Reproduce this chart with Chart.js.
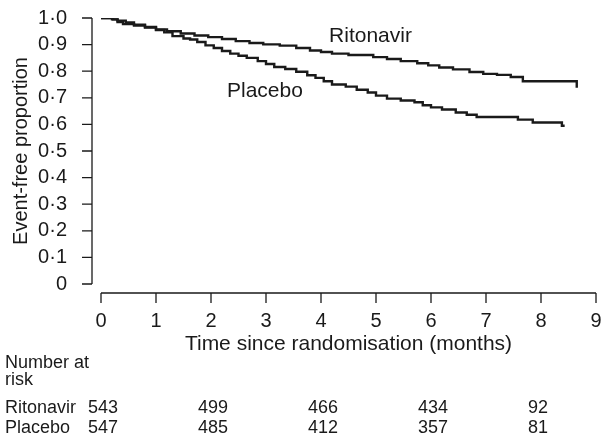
<!DOCTYPE html>
<html>
<head>
<meta charset="utf-8">
<title>Event-free proportion</title>
<script src="https://cdn.jsdelivr.net/npm/chart.js@4.4.1/dist/chart.umd.min.js"></script>
<style>
  html, body { margin: 0; padding: 0; background: #fff; }
  canvas { display: block; }
</style>
</head>
<body>
<canvas id="km" width="602" height="437"></canvas>
<script>
// Kaplan-Meier steps (months, event-free proportion)
const ritonavirTime = [0, 0.22, 0.3, 0.45, 0.6, 0.8, 1.0, 1.2, 1.45, 1.7, 1.95, 2.2, 2.45, 2.7, 2.95, 3.25, 3.55, 3.8, 4.0, 4.2, 4.5, 4.95, 5.2, 5.45, 5.75, 5.95, 6.15, 6.4, 6.7, 6.95, 7.2, 7.45, 7.67, 8.65, 8.65];
const ritonavirSurv = [1, 0.995, 0.99, 0.983, 0.975, 0.966, 0.957, 0.95, 0.942, 0.934, 0.928, 0.921, 0.913, 0.906, 0.901, 0.896, 0.887, 0.878, 0.872, 0.866, 0.861, 0.853, 0.846, 0.838, 0.83, 0.822, 0.814, 0.807, 0.797, 0.79, 0.786, 0.778, 0.762, 0.762, 0.738];

const placeboTime = [0, 0.2, 0.3, 0.4, 0.6, 0.8, 1.0, 1.15, 1.3, 1.5, 1.62, 1.75, 1.9, 2.05, 2.2, 2.35, 2.5, 2.65, 2.85, 3.0, 3.15, 3.35, 3.55, 3.75, 3.9, 4.05, 4.2, 4.45, 4.65, 4.85, 5.0, 5.2, 5.45, 5.7, 5.85, 6.0, 6.2, 6.45, 6.65, 6.83, 7.58, 7.85, 8.38, 8.43];
const placeboSurv = [1, 0.995, 0.985, 0.977, 0.972, 0.964, 0.955, 0.946, 0.932, 0.923, 0.919, 0.91, 0.897, 0.887, 0.876, 0.866, 0.858, 0.85, 0.838, 0.827, 0.816, 0.808, 0.798, 0.785, 0.775, 0.762, 0.75, 0.742, 0.73, 0.72, 0.708, 0.697, 0.69, 0.683, 0.672, 0.664, 0.656, 0.645, 0.636, 0.628, 0.618, 0.607, 0.595, 0.595];

// Number at risk table
const riskMonths = [0, 2, 4, 6, 8];
const riskRitonavir = [543, 499, 466, 434, 92];
const riskPlacebo = [547, 485, 412, 357, 81];

const FONT = "'Liberation Sans', Arial, sans-serif";
const INK = '#1a1a1a';

const toPoints = (t, s) => t.map((v, i) => ({ x: v, y: s[i] }));
const fmtTick = v => (Math.abs(v) < 1e-9 ? '0' : v.toFixed(1).replace('.', '\u00b7'));

// detached axes, curve labels and the risk table
const extras = {
  id: 'extras',
  afterDraw(chart) {
    const { ctx, chartArea, scales: { x, y } } = chart;
    ctx.save();
    ctx.strokeStyle = INK;
    ctx.lineWidth = 1.3;
    ctx.beginPath();
    const ax = chartArea.left - 9;
    ctx.moveTo(ax, y.getPixelForValue(1));
    ctx.lineTo(ax, y.getPixelForValue(0));
    y.ticks.forEach(t => {
      const py = y.getPixelForValue(t.value);
      ctx.moveTo(ax - 10, py);
      ctx.lineTo(ax, py);
    });
    const ay = chartArea.bottom + 9;
    ctx.moveTo(x.getPixelForValue(0), ay);
    ctx.lineTo(x.getPixelForValue(9), ay);
    x.ticks.forEach(t => {
      const px = x.getPixelForValue(t.value);
      ctx.moveTo(px, ay);
      ctx.lineTo(px, ay + 10);
    });
    ctx.stroke();

    ctx.fillStyle = INK;
    ctx.textBaseline = 'middle';
    ctx.textAlign = 'center';
    ctx.font = '21px ' + FONT;
    ctx.fillText('Ritonavir', x.getPixelForValue(4.9), y.getPixelForValue(0.932));
    ctx.fillText('Placebo', x.getPixelForValue(2.98), y.getPixelForValue(0.725));

    ctx.font = '18px ' + FONT;
    ctx.textAlign = 'left';
    ctx.textBaseline = 'alphabetic';
    ctx.fillText('Number at', 5, 368);
    ctx.fillText('risk', 5, 385);
    ctx.fillText('Ritonavir', 5, 413);
    ctx.fillText('Placebo', 5, 433);
    riskMonths.forEach((m, i) => {
      const px = x.getPixelForValue(m) - 13;
      ctx.fillText(String(riskRitonavir[i]), px, 413);
      ctx.fillText(String(riskPlacebo[i]), px, 433);
    });
    ctx.restore();
  }
};

new Chart(document.getElementById('km'), {
  type: 'line',
  data: {
    datasets: [
      {
        label: 'Ritonavir',
        data: toPoints(ritonavirTime, ritonavirSurv),
        borderColor: INK,
        borderWidth: 2.4,
        stepped: true,
        pointRadius: 0,
        fill: false
      },
      {
        label: 'Placebo',
        data: toPoints(placeboTime, placeboSurv),
        borderColor: INK,
        borderWidth: 2.4,
        stepped: true,
        pointRadius: 0,
        fill: false
      }
    ]
  },
  options: {
    responsive: false,
    animation: false,
    layout: { padding: { top: 18, right: 6, bottom: 80, left: 0 } },
    plugins: {
      legend: { display: false },
      tooltip: { enabled: false }
    },
    scales: {
      x: {
        type: 'linear',
        min: 0,
        max: 9,
        grid: { display: false },
        border: { display: false },
        ticks: {
          stepSize: 1,
          padding: 17,
          color: INK,
          font: { family: FONT, size: 20 },
          maxRotation: 0,
          autoSkip: false
        },
        title: {
          display: true,
          text: 'Time since randomisation (months)',
          color: INK,
          font: { family: FONT, size: 21 },
          padding: 0
        },
        afterFit: scale => {
          scale.height = 73;
          scale.paddingLeft = 0;
          scale.paddingRight = 0;
        }
      },
      y: {
        min: 0,
        max: 1,
        grid: { display: false },
        border: { display: false },
        ticks: {
          stepSize: 0.1,
          padding: 26,
          color: INK,
          font: { family: FONT, size: 20 },
          autoSkip: false,
          callback: v => fmtTick(v)
        },
        title: {
          display: true,
          text: 'Event-free proportion',
          color: INK,
          font: { family: FONT, size: 20 },
          padding: { top: 9, bottom: 0 }
        },
        afterFit: scale => {
          scale.width = 101;
          scale.paddingTop = 0;
          scale.paddingBottom = 0;
        }
      }
    }
  },
  plugins: [extras]
});
</script>
</body>
</html>
